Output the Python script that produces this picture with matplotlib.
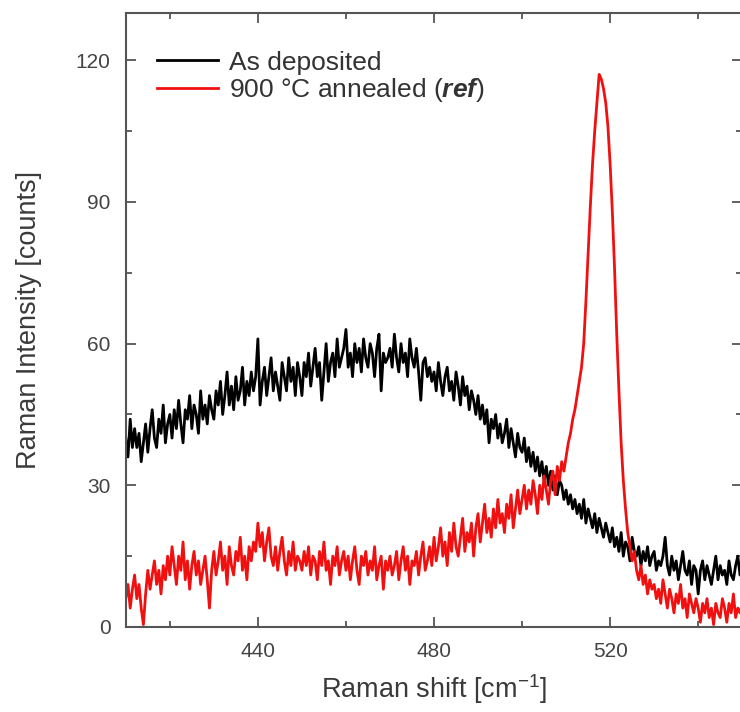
import numpy as np
import matplotlib
matplotlib.use("Agg")
import matplotlib.pyplot as plt
from matplotlib.ticker import MultipleLocator

plt.rcParams['font.family'] = ['Liberation Sans', 'DejaVu Sans']
plt.rcParams['mathtext.fontset'] = 'custom'
plt.rcParams['mathtext.rm'] = 'Liberation Sans'
plt.rcParams['mathtext.it'] = 'Liberation Sans:italic'
plt.rcParams['mathtext.bf'] = 'Liberation Sans:bold'
plt.rcParams['mathtext.bfit'] = 'Liberation Sans:italic:bold'

# Raman shift axis, 0.5 cm-1 steps from 410 to 550
shift = np.arange(410, 550.25, 0.5)

# As deposited (black)
as_deposited = [
    40, 36, 44, 38, 42, 38, 41, 35, 39, 43, 37, 42, 46, 40, 38, 44, 41, 47, 39, 43,   # 410
    45, 40, 46, 42, 48, 43, 39, 46, 44, 49, 42, 47, 45, 41, 50, 44, 47, 43, 49, 46,   # 420
    44, 50, 47, 52, 45, 49, 54, 47, 51, 46, 53, 48, 50, 55, 47, 52, 49, 54, 50, 53,   # 430
    61, 47, 52, 55, 49, 53, 57, 50, 54, 51, 48, 56, 53, 50, 57, 52, 55, 49, 56, 53,   # 440
    49, 56, 53, 58, 51, 55, 59, 53, 56, 48, 54, 60, 52, 56, 58, 53, 61, 55, 57, 59,   # 450
    63, 55, 58, 53, 60, 56, 59, 54, 61, 57, 55, 60, 58, 53, 59, 62, 50, 58, 56, 57,   # 460
    59, 55, 62, 57, 54, 60, 56, 58, 53, 61, 57, 55, 59, 54, 48, 56, 57, 53, 55, 52,   # 470
    54, 50, 56, 52, 49, 53, 55, 50, 52, 48, 54, 51, 47, 53, 49, 51, 46, 50, 48, 45,   # 480
    49, 44, 47, 43, 46, 39, 44, 42, 45, 40, 43, 39, 41, 44, 38, 42, 39, 36, 41, 38,   # 490
    37, 40, 35, 38, 34, 37, 33, 36, 32, 35, 31, 34, 30, 33, 29, 32, 28, 31, 30, 27,   # 500
    29, 26, 28, 25, 27, 24, 26, 23, 27, 22, 25, 23, 21, 24, 20, 23, 21, 19, 22, 20,   # 510
    18, 21, 17, 19, 16, 20, 15, 18, 17, 14, 19, 16, 15, 17, 13, 16, 14, 17, 13, 15,   # 520
    16, 12, 14, 13, 15, 19, 13, 11, 15, 12, 14, 10, 13, 16, 12, 11, 14, 9, 13, 12,    # 530
    7, 12, 14, 10, 13, 11, 9, 12, 15, 10, 13, 11, 12, 9, 14, 11, 10, 13, 15, 11,      # 540
    12,
]

# 900 C annealed reference (red)
annealed = [
    6, 9, 4, 8, 11, 6, 9, 4, 0.5, 7, 12, 8, 11, 14, 9, 12, 7, 13, 10, 15,            # 410
    11, 17, 13, 9, 15, 12, 18, 10, 14, 8, 13, 16, 11, 14, 9, 12, 15, 10, 4, 12,       # 420
    16, 11, 14, 18, 12, 15, 9, 17, 13, 11, 16, 14, 19, 12, 15, 10, 17, 14, 18, 16,    # 430
    22, 17, 20, 14, 18, 21, 15, 13, 17, 12, 16, 19, 14, 11, 16, 13, 18, 12, 15, 14,   # 440
    12, 16, 13, 17, 11, 15, 14, 10, 16, 13, 18, 12, 14, 9, 15, 13, 17, 11, 14, 16,   # 450
    12, 15, 10, 14, 17, 12, 9, 15, 13, 16, 11, 14, 12, 17, 10, 13, 15, 8, 14, 12,     # 460
    15, 11, 13, 16, 10, 14, 17, 12, 15, 9, 14, 13, 16, 11, 15, 18, 12, 14, 17, 13,    # 470
    19, 14, 17, 21, 15, 18, 13, 20, 16, 22, 17, 15, 19, 23, 16, 20, 18, 22, 15, 21,   # 480
    24, 18, 22, 26, 20, 23, 19, 25, 21, 27, 22, 24, 20, 26, 23, 28, 21, 25, 29, 24,   # 490
    27, 30, 25, 29, 26, 31, 28, 24, 30, 27, 32, 29, 26, 31, 33, 28, 34, 31, 35, 33,   # 500
    36, 39, 41, 44, 46, 49, 52, 55, 60, 69, 79, 89, 98, 105, 111, 117, 116, 114, 111, 106,  # 510
    98, 88, 76, 62, 50, 39, 31, 25, 20, 17, 14, 16, 12, 10, 13, 9, 11, 7, 10, 8,     # 520
    9, 6, 8, 5, 10, 7, 4, 8, 6, 3, 7, 5, 9, 4, 6, 2, 7, 5, 3, 6,                      # 530
    4, 1, 5, 3, 6, 2, 4, 0.5, 5, 3, 2, 6, 4, 1, 5, 3, 7, 2, 4, 3,                     # 540
    5,
]

labels = ['As deposited', r'900 °C annealed ($\mathbfit{ref}$)']

fig = plt.figure(figsize=(7.4, 7.12), dpi=100)
ax = fig.add_axes([0.170, 0.1194, 0.833, 0.8623])

ax.plot(shift, as_deposited, color='black', lw=2.0, label=labels[0])
ax.plot(shift, annealed, color='#f01010', lw=2.0, label=labels[1])

ax.set_xlim(410, 550)
ax.set_ylim(0, 130)
ax.xaxis.set_major_locator(MultipleLocator(40))
ax.xaxis.set_minor_locator(MultipleLocator(20))
ax.yaxis.set_major_locator(MultipleLocator(30))
ax.yaxis.set_minor_locator(MultipleLocator(15))

spine_c = '#555555'
for s in ax.spines.values():
    s.set_color(spine_c)
    s.set_linewidth(1.5)
ax.tick_params(which='both', direction='in', top=True, right=True,
               color=spine_c, width=1.3, labelcolor='#444444')
ax.tick_params(which='major', length=7, labelsize=15, pad=11)
ax.tick_params(which='minor', length=4)

ax.set_xlabel(r'Raman shift [cm$^{\mathregular{-1}}$]', fontsize=19.5,
              color='#3a3a3a', labelpad=8)
ax.set_ylabel('Raman Intensity [counts]', fontsize=19.5, color='#3a3a3a',
              labelpad=24)

leg = ax.legend(loc='upper left', bbox_to_anchor=(0.034, 0.956),
                borderaxespad=0, frameon=False, fontsize=19,
                handlelength=2.3, handletextpad=0.4, labelspacing=0.05)
for t in leg.get_texts():
    t.set_color('#333333')

fig.savefig('out.png', dpi=100)
